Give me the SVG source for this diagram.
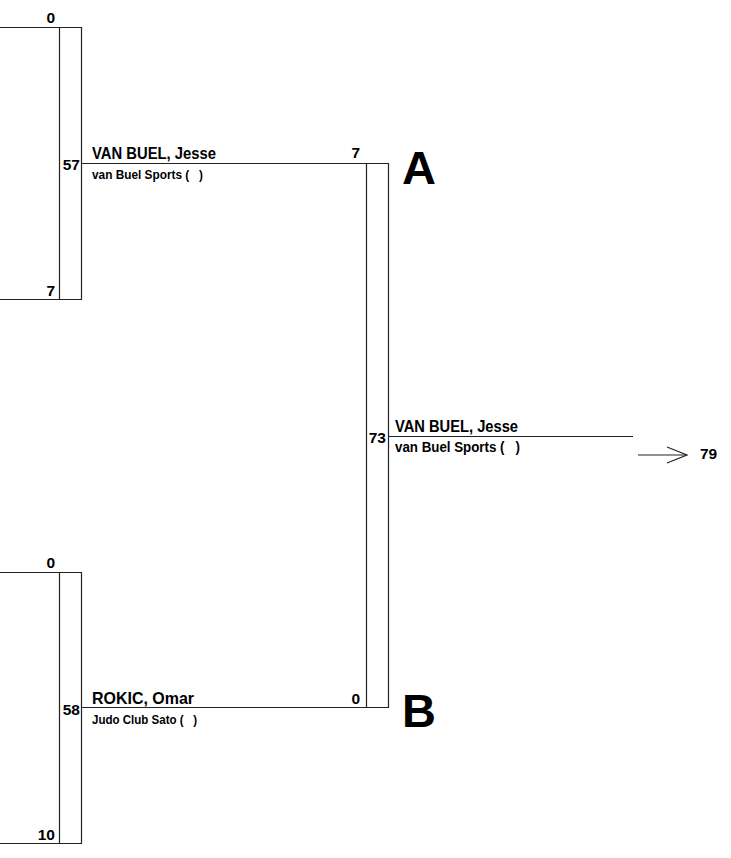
<svg xmlns="http://www.w3.org/2000/svg" width="731" height="858" viewBox="0 0 731 858">
<style>
.ln{stroke:#222;stroke-width:1.2;fill:none}
text{font-family:"Liberation Sans",Arial,sans-serif;font-weight:bold;fill:#000}
.nm{font-size:16.5px}
.cl{font-size:13px}
.cw{font-size:14.5px}
.num{font-size:15.5px}
.big{font-size:47px}
</style>
<defs>
<marker id="chev" viewBox="0 0 22 18" refX="21" refY="9" markerWidth="22" markerHeight="18" markerUnits="userSpaceOnUse" orient="auto">
<path d="M1 1 L21 9 L1 17" fill="none" stroke="#222" stroke-width="1.2"/>
</marker>
</defs>
<g id="connectors">
<path class="ln" d="M0 27.5H81.5V299.5H0M59.5 27.5V299.5"/>
<path class="ln" d="M0 572.5H81.5V843.5H0M59.5 572.5V843.5"/>
<path class="ln" d="M81.5 163.5H388.5V707.5H81.5M366.5 163.5V707.5"/>
<path class="ln" d="M388.5 436.5H633"/>
<path class="ln" d="M638 455H687" marker-end="url(#chev)"/>
</g>
<g id="pool-top">
<text class="num" x="55" y="23" text-anchor="end">0</text>
<text class="num" x="55" y="296" text-anchor="end">7</text>
<text class="num" x="80" y="170" text-anchor="end">57</text>
</g>
<g id="pool-bottom">
<text class="num" x="55" y="568" text-anchor="end">0</text>
<text class="num" x="55" y="840" text-anchor="end">10</text>
<text class="num" x="80" y="715" text-anchor="end">58</text>
</g>
<g id="fighter-a">
<text class="nm" x="92" y="159" textLength="124" lengthAdjust="spacingAndGlyphs">VAN BUEL, Jesse</text>
<text class="cl" x="92" y="179" xml:space="preserve" textLength="111" lengthAdjust="spacingAndGlyphs">van Buel Sports (   )</text>
<text class="num" x="360" y="158" text-anchor="end">7</text>
<text class="big" x="402" y="184">A</text>
</g>
<g id="fighter-b">
<text class="nm" x="92" y="704" textLength="102" lengthAdjust="spacingAndGlyphs">ROKIC, Omar</text>
<text class="cl" x="92" y="724" xml:space="preserve" textLength="105" lengthAdjust="spacingAndGlyphs">Judo Club Sato (   )</text>
<text class="num" x="360" y="704" text-anchor="end">0</text>
<text class="big" x="402" y="727">B</text>
</g>
<g id="winner">
<text class="num" x="386" y="443" text-anchor="end">73</text>
<text class="nm" x="395" y="432" textLength="123" lengthAdjust="spacingAndGlyphs">VAN BUEL, Jesse</text>
<text class="cw" x="395" y="452" xml:space="preserve" textLength="125" lengthAdjust="spacingAndGlyphs">van Buel Sports (   )</text>
<text class="num" x="700" y="459">79</text>
</g>
</svg>
